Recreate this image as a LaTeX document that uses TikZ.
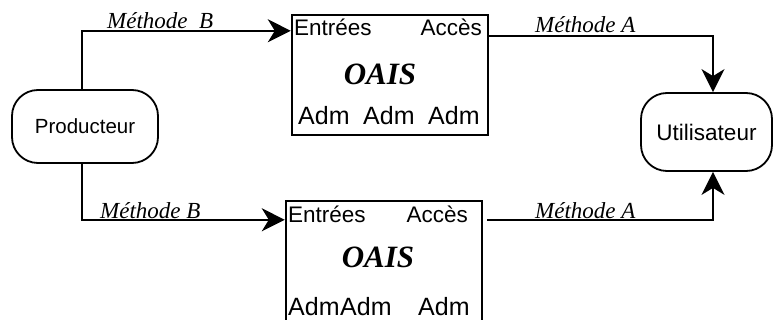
\documentclass[tikz,border=0pt]{standalone}
\usepackage{fontspec}
\setmainfont{Liberation Serif}
\setsansfont{Liberation Sans}
\usetikzlibrary{arrows.meta,positioning}

\begin{document}
\begin{tikzpicture}[
    x=1pt, y=-1pt,
    actor/.style={rectangle, rounded corners=26pt, draw=black, line width=1.8pt, align=center, inner sep=0pt, font=\sffamily\fontsize{20.5}{21}\selectfont},
    oais/.style={rectangle, draw=black, line width=2.4pt, minimum width=196pt, minimum height=120pt, inner sep=0pt},
    part/.style={inner sep=0pt, font=\sffamily\fontsize{22.5}{23}\selectfont},
    adm/.style={inner sep=0pt, anchor=base west, font=\sffamily\fontsize{25}{26}\selectfont},
    title/.style={inner sep=0pt, anchor=base, font=\bfseries\itshape\fontsize{31}{32}\selectfont},
    method/.style={inner sep=0pt, anchor=base west, font=\itshape\fontsize{23}{24}\selectfont},
    line/.style={line width=2pt, -{Stealth[length=23pt, width=23pt, inset=7pt]}}
]
\useasboundingbox (0,0) rectangle (773,320);
\clip (0,0) rectangle (773,320);

\node[actor, minimum width=146pt, minimum height=73pt] (prod) at (85,126.5) {Producteur};
\node[actor, minimum width=131pt, minimum height=78pt, font=\sffamily\fontsize{22.5}{23}\selectfont] (util) at (706.5,132) {Utilisateur};

% systeme du haut
\node[oais] (sysA) at (390,75) {};
\node[part, anchor=base west] (inA) at (294,36) {Entrées};
\node[part, anchor=base east] (outA) at (482,36) {Accès};
\node[title] (nameA) at (380,85) {OAIS};
\node[adm] (admA1) at (298,125) {Adm};
\node[adm] (admA2) at (363,125) {Adm};
\node[adm] (admA3) at (428,125) {Adm};

% systeme du bas
\node[oais, minimum height=144pt] (sysB) at (384,273) {};
\node[part, anchor=base west] (inB) at (288,223) {Entrées};
\node[part, anchor=base east] (outB) at (468,223) {Accès};
\node[title] (nameB) at (378,268) {OAIS};
\node[adm] (admB1) at (288,315) {Adm};
\node[adm] (admB2) at (340,315) {Adm};
\node[adm] (admB3) at (418,315) {Adm};

% methodes
\node[method] (mBA) at (107,29) {Méthode\ \ B};
\node[method] (mAA) at (535,33) {Méthode A};
\node[method] (mBB) at (100,219) {Méthode B};
\node[method] (mAB) at (535,219) {Méthode A};

\draw[line] ([xshift=-3pt]prod.north) |- ([yshift=-17pt]sysA.north west);
\draw[line] ([yshift=-22pt]sysA.north east) -| ([xshift=6.5pt]util.north);
\draw[line] ([xshift=-3pt]prod.south) |- ([yshift=-20pt]sysB.north west);
\draw[line] ([xshift=4pt, yshift=-20pt]sysB.north east) -| ([xshift=6.5pt]util.south);
\end{tikzpicture}
\end{document}
